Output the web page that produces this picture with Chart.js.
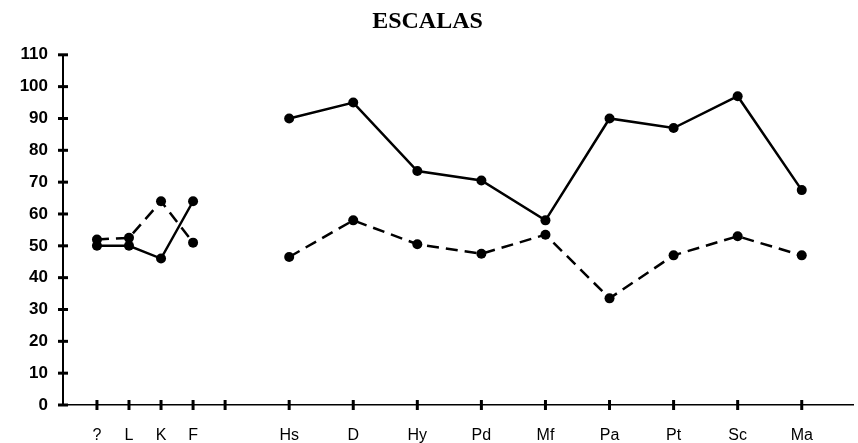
<!DOCTYPE html>
<html>
<head>
<meta charset="utf-8">
<script src="https://cdn.jsdelivr.net/npm/chart.js@4/dist/chart.umd.min.js"></script>
<style>
  html, body { margin: 0; padding: 0; background: #fff; }
  #wrap { width: 858px; height: 443px; }
</style>
</head>
<body>
<div id="wrap"><canvas id="escalas" width="858" height="443"></canvas></div>
<script>
// MMPI scales, the empty one is the unlabeled tick between F and Hs
const scaleLabels = ['?', 'L', 'K', 'F', '', 'Hs', 'D', 'Hy', 'Pd', 'Mf', 'Pa', 'Pt', 'Sc', 'Ma'];
const scalePositions = [0, 0.5, 1, 1.5, 2, 3, 4, 5, 6, 7, 8, 9, 10, 11];
const solidScores = [50, 50, 46, 64, null, 90, 95, 73.5, 70.5, 58, 90, 87, 97, 67.5];
const dashedScores = [52, 52.5, 64, 51, null, 46.5, 58, 50.5, 47.5, 53.5, 33.5, 47, 53, 47];

function toPoints(scores) {
  return scores.map((s, i) => ({ x: scalePositions[i], y: s }));
}

// tick marks that cross the axis lines
const crossTicks = {
  id: 'crossTicks',
  afterDraw(chart) {
    const ctx = chart.ctx;
    const area = chart.chartArea;
    const xs = chart.scales.x;
    const ys = chart.scales.y;
    ctx.save();
    ctx.strokeStyle = '#000';
    ctx.lineWidth = 3;
    ys.ticks.forEach(t => {
      const py = ys.getPixelForValue(t.value);
      ctx.beginPath();
      ctx.moveTo(area.left - 5, py);
      ctx.lineTo(area.left + 5, py);
      ctx.stroke();
    });
    xs.ticks.forEach(t => {
      const px = xs.getPixelForValue(t.value);
      ctx.beginPath();
      ctx.moveTo(px, area.bottom - 5);
      ctx.lineTo(px, area.bottom + 5);
      ctx.stroke();
    });
    ctx.restore();
  }
};

const ctx = document.getElementById('escalas').getContext('2d');
new Chart(ctx, {
  type: 'line',
  data: {
    datasets: [{
      data: toPoints(solidScores),
      borderColor: '#000',
      borderWidth: 2.5,
      pointRadius: 5,
      pointBackgroundColor: '#000',
      pointBorderWidth: 0,
      spanGaps: false
    }, {
      data: toPoints(dashedScores),
      borderColor: '#000',
      borderWidth: 2.5,
      borderDash: [12, 7],
      pointRadius: 5,
      pointBackgroundColor: '#000',
      pointBorderWidth: 0,
      spanGaps: false
    }]
  },
  options: {
    responsive: false,
    animation: false,
    layout: { padding: { left: 0, right: 3, top: 0, bottom: 0 } },
    plugins: {
      legend: { display: false },
      tooltip: { enabled: false },
      title: {
        display: true,
        text: 'ESCALAS',
        color: '#000',
        font: { family: 'Liberation Serif', size: 24, weight: 'bold', lineHeight: 1.2 },
        padding: { top: 7, bottom: 19 }
      }
    },
    scales: {
      x: {
        type: 'linear',
        min: -0.53,
        max: 11.8,
        afterFit: s => { s.height = 38; },
        afterBuildTicks: s => { s.ticks = scalePositions.map(v => ({ value: v })); },
        grid: { display: false, drawTicks: false },
        border: { display: true, color: '#000', width: 1.5 },
        ticks: {
          autoSkip: false,
          maxRotation: 0,
          padding: 21,
          color: '#000',
          font: { family: 'Liberation Sans', size: 16 },
          callback: (v, i) => scaleLabels[i]
        }
      },
      y: {
        min: 0,
        max: 110,
        afterFit: s => { s.width = 63; },
        grid: { display: false, drawTicks: false },
        border: { display: true, color: '#000', width: 2 },
        ticks: {
          stepSize: 10,
          padding: 15,
          color: '#000',
          font: { family: 'Liberation Sans', size: 17, weight: 'bold' }
        }
      }
    }
  },
  plugins: [crossTicks]
});
</script>
</body>
</html>
